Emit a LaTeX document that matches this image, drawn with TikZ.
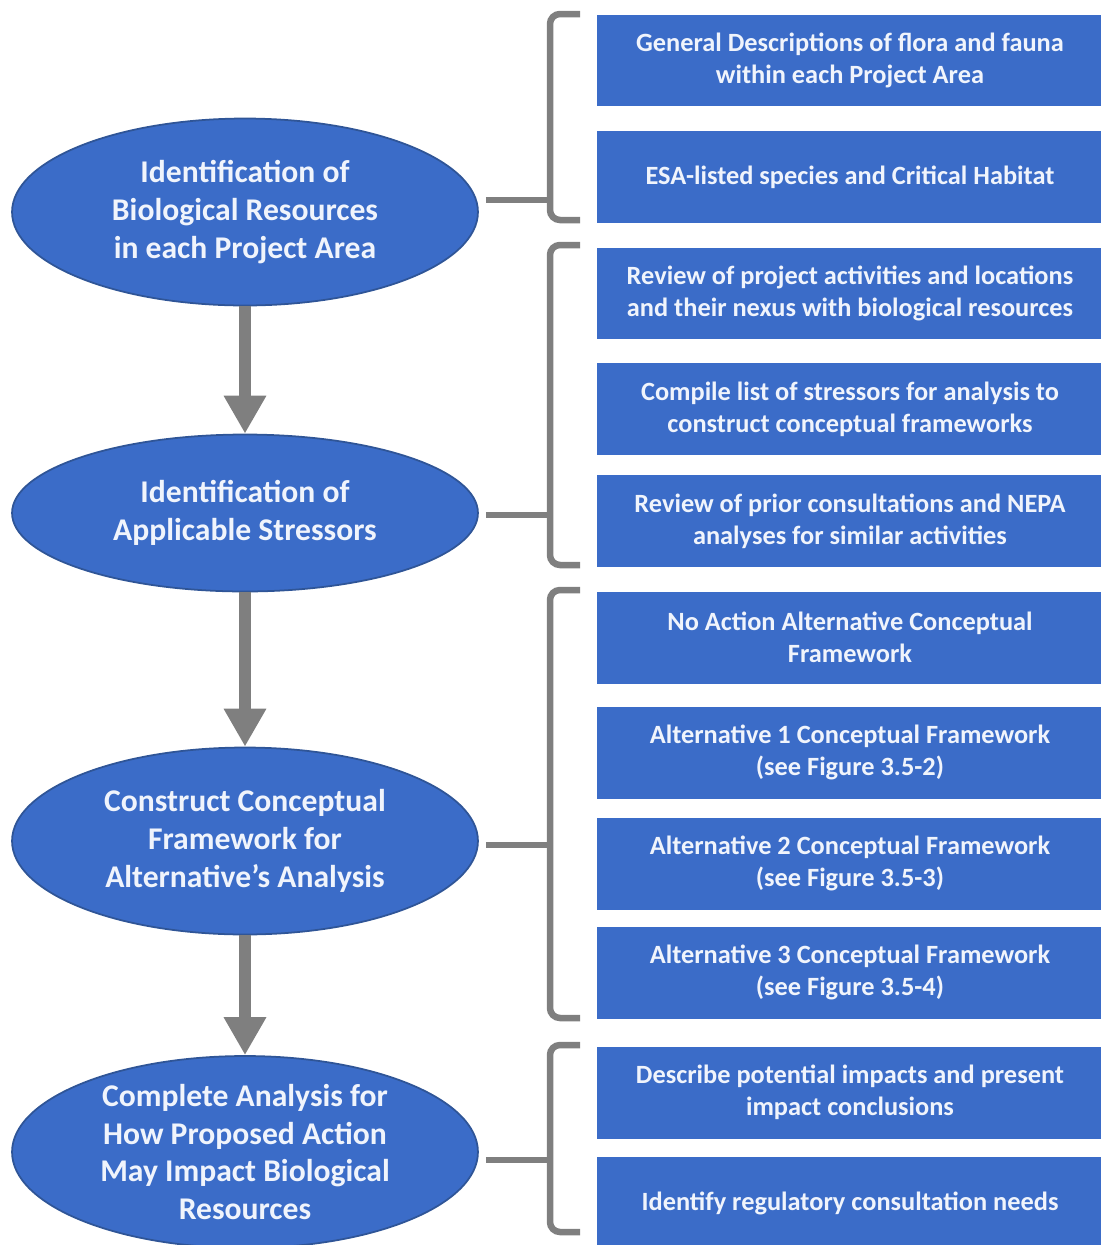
\documentclass[tikz,border=0pt]{standalone}
\usepackage{fontspec}
\setmainfont{Carlito}
\usetikzlibrary{shapes.geometric,arrows.meta}
\definecolor{boxblue}{RGB}{59,108,200}
\definecolor{edgeblue}{RGB}{47,85,151}
\definecolor{txt}{RGB}{240,244,252}
\definecolor{conn}{RGB}{127,127,127}
\begin{document}
\begin{tikzpicture}[x=0.02cm,y=-0.02cm,
 oval/.style={ellipse, fill=boxblue, draw=edgeblue, line width=1pt, minimum width=9.32cm, minimum height=3.74cm, inner sep=0pt, align=center, text=txt, font=\fontsize{18}{21.5}\selectfont\bfseries},
 card/.style={rectangle, fill=boxblue, minimum width=10.12cm, minimum height=1.84cm, inner sep=0pt, align=center, text=txt, font=\fontsize{15}{18.2}\selectfont\bfseries},
 flow/.style={draw=conn, line width=0.24cm, -{Triangle[length=0.76cm,width=0.8cm]}},
 brk/.style={draw=conn, line width=0.13cm, rounded corners=0.2cm},
 spur/.style={draw=conn, line width=0.13cm},
]
\useasboundingbox (0,0) rectangle (1101,1245);
\clip (0,0) rectangle (1101,1245);

% ellipses
\node[oval] (e1) at (245,212) {Identification of\\Biological Resources\\in each Project Area};
\node[oval, minimum height=3.14cm] (e2) at (245,513) {Identification of\\Applicable Stressors};
\node[oval] (e3) at (245,841) {Construct Conceptual\\Framework for\\Alternative’s Analysis};
\node[oval, minimum height=3.66cm] (e4) at (245,1152) {Complete Analysis for\\How Proposed Action\\May Impact Biological\\Resources};

% arrows
\draw[flow] (e1) -- (e2);
\draw[flow] (e2) -- (e3);
\draw[flow] (e3) -- (e4);

% boxes
\node[card] (r1) at (850,60.5) {General Descriptions of flora and fauna\\within each Project Area};
\node[card] (r2) at (850,177) {ESA-listed species and Critical Habitat};
\node[card] (r3) at (850,293.5) {Review of project activities and locations\\and their nexus with biological resources};
\node[card] (r4) at (850,409) {Compile list of stressors for analysis to\\construct conceptual frameworks};
\node[card] (r5) at (850,521) {Review of prior consultations and NEPA\\analyses for similar activities};
\node[card] (r6) at (850,637.5) {No Action Alternative Conceptual\\Framework};
\node[card] (r7) at (850,752.5) {Alternative 1 Conceptual Framework\\(see Figure 3.5-2)};
\node[card] (r8) at (850,863.5) {Alternative 2 Conceptual Framework\\(see Figure 3.5-3)};
\node[card] (r9) at (850,972.5) {Alternative 3 Conceptual Framework\\(see Figure 3.5-4)};
\node[card] (r10) at (850,1092.5) {Describe potential impacts and present\\impact conclusions};
\node[card] (r11) at (850,1203) {Identify regulatory consultation needs};

% brackets
\coordinate (b1t) at (580,14);   \coordinate (b1b) at (580,220);  \coordinate (b1s) at (550,200);
\coordinate (b2t) at (580,245);  \coordinate (b2b) at (580,565);  \coordinate (b2s) at (550,515);
\coordinate (b3t) at (580,590);  \coordinate (b3b) at (580,1018); \coordinate (b3s) at (550,845);
\coordinate (b4t) at (580,1045); \coordinate (b4b) at (580,1232); \coordinate (b4s) at (550,1160);

\foreach \b/\e in {b1/e1,b2/e2,b3/e3,b4/e4}{
  \draw[brk] (\b t) -- (\b t -| \b s) -- (\b b -| \b s) -- (\b b);
  \draw[spur] ([xshift=0.14cm]\e.east |- \b s) -- (\b s);
}
\end{tikzpicture}
\end{document}
